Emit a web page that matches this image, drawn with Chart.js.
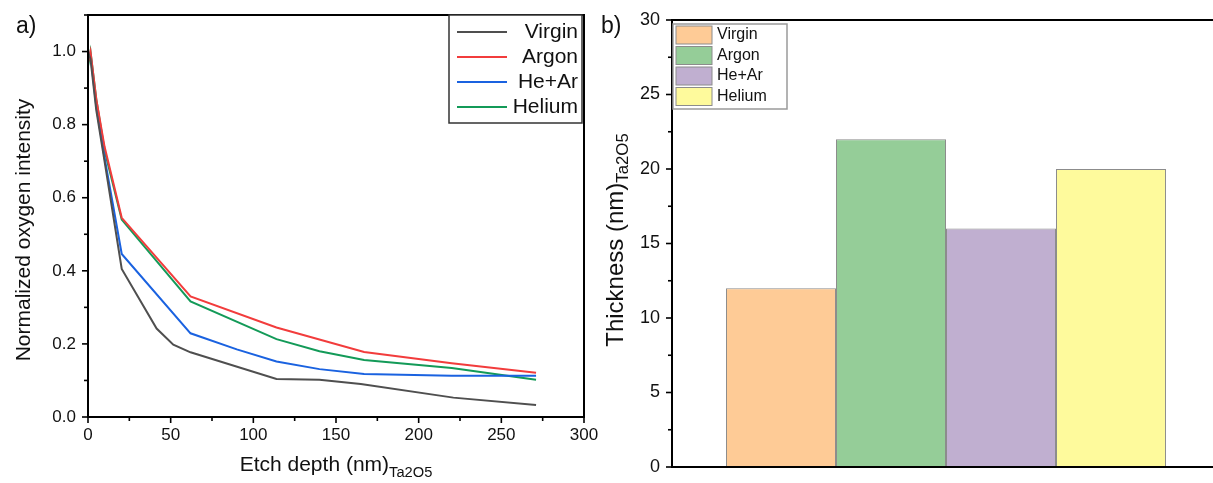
<!DOCTYPE html>
<html>
<head>
<meta charset="utf-8">
<script src="https://cdn.jsdelivr.net/npm/chart.js@4/dist/chart.umd.min.js"></script>
<style>
body{margin:0;width:1213px;height:483px;overflow:hidden;background:#fff;position:relative;font-family:"Liberation Sans",Arial,sans-serif;color:#111}
.box{position:absolute;top:0;height:483px}
.lbl{position:absolute;white-space:nowrap}
.rot{transform:translate(-50%,-50%) rotate(-90deg)}
.ctr{transform:translate(-50%,-50%)}
sub{font-size:0.7em;vertical-align:-0.35em}
</style>
</head>
<body>
<div class="box" style="left:0;width:600px"><canvas id="chartA"></canvas></div>
<div class="box" style="left:600px;width:640px"><canvas id="chartB"></canvas></div>

<div class="lbl" style="left:16px;top:12px;font-size:23px">a)</div>
<div class="lbl" style="left:601px;top:12px;font-size:23px">b)</div>
<div class="lbl rot" style="left:23px;top:230px;font-size:21px">Normalized oxygen intensity</div>
<div class="lbl ctr" style="left:336px;top:466px;font-size:21px">Etch depth (nm)<sub>Ta2O5</sub></div>
<div class="lbl rot" style="left:617px;top:240px;font-size:24px">Thickness (nm)<sub>Ta2O5</sub></div>

<script>
// panel a: etch depth (nm) vs normalized O intensity
var depthVirgin = [0, 1.5, 5, 10, 20.4, 41.5, 51.6, 62, 114, 140, 165, 221, 271];
var oxyVirgin   = [1.0, 0.98, 0.84, 0.70, 0.405, 0.242, 0.198, 0.177, 0.104, 0.102, 0.09, 0.053, 0.033];
var depthArgon  = [0, 1.5, 5, 10, 20.4, 62, 114, 167, 220, 271];
var oxyArgon    = [0.97, 1.0, 0.87, 0.74, 0.545, 0.33, 0.245, 0.178, 0.147, 0.121];
var depthHeAr   = [0, 1.5, 5, 10, 20.4, 62, 90, 114, 140, 167, 220, 271];
var oxyHeAr     = [1.0, 0.99, 0.85, 0.71, 0.446, 0.229, 0.185, 0.152, 0.131, 0.118, 0.113, 0.113];
var depthHelium = [0, 1.5, 5, 10, 20.4, 62, 114, 140, 167, 220, 271];
var oxyHelium   = [0.96, 1.0, 0.87, 0.73, 0.54, 0.316, 0.213, 0.18, 0.156, 0.134, 0.102];

// panel b: thickness per treatment
var treatments = ['Virgin', 'Argon', 'He+Ar', 'Helium'];
var thickness  = [12, 22, 16, 20];

var lineColors = ['#4f4f4f', '#f23c3c', '#1a62e0', '#139a58'];
var barColors  = ['#fecb96', '#95cd98', '#c0afd0', '#fefa9c'];

function pts(xs, ys){
	var out = [];
	for (var i in xs){ out.push({x: xs[i], y: ys[i]}); }
	return out;
}

// drop the label overhang so the plot box sits where the padding says
function noOverhang(s){
	s.paddingTop = 0; s.paddingBottom = 0; s.paddingLeft = 0; s.paddingRight = 0;
}

// box frame + outward ticks (long for labelled, short for minor)
var frame = {
	id: 'frame',
	afterDraw: function(chart){
		var ctx = chart.ctx, a = chart.chartArea;
		ctx.save();
		ctx.strokeStyle = '#000';
		ctx.lineWidth = 2;
		ctx.strokeRect(a.left, a.top, a.right - a.left, a.bottom - a.top);
		ctx.lineWidth = 1.6;
		['x', 'y'].forEach(function(id){
			var s = chart.scales[id];
			if (!s.options.ticks.display) return;
			s.ticks.forEach(function(t){
				var len = t.label !== '' ? 6 : 4;
				var p = s.getPixelForValue(t.value);
				ctx.beginPath();
				if (id == 'x'){ ctx.moveTo(p, a.bottom); ctx.lineTo(p, a.bottom + len); }
				else { ctx.moveTo(a.left, p); ctx.lineTo(a.left - len, p); }
				ctx.stroke();
			});
		});
		ctx.restore();
	}
};

// legend boxes drawn inside the plot like the original
var boxLegend = {
	id: 'boxLegend',
	afterDraw: function(chart, args, o){
		var ctx = chart.ctx;
		ctx.save();
		ctx.fillStyle = '#fff';
		ctx.fillRect(o.x, o.y, o.w, o.h);
		ctx.strokeStyle = o.border;
		ctx.lineWidth = 1.5;
		ctx.strokeRect(o.x, o.y, o.w, o.h);
		ctx.font = o.font;
		ctx.textBaseline = 'middle';
		chart.data.datasets.forEach(function(ds, i){
			var cy = o.y + o.first + i * o.step;
			if (o.kind == 'line'){
				ctx.strokeStyle = ds.borderColor;
				ctx.lineWidth = 2;
				ctx.beginPath();
				ctx.moveTo(o.x + 8, cy); ctx.lineTo(o.x + 58, cy);
				ctx.stroke();
				ctx.fillStyle = '#111';
				ctx.textAlign = 'right';
				ctx.fillText(ds.label, o.x + o.w - 4, cy);
			} else {
				ctx.fillStyle = ds.backgroundColor;
				ctx.fillRect(o.x + 3, cy - 9, 36, 18);
				ctx.strokeStyle = '#8c8c8c';
				ctx.lineWidth = 1;
				ctx.strokeRect(o.x + 3, cy - 9, 36, 18);
				ctx.fillStyle = '#111';
				ctx.textAlign = 'left';
				ctx.fillText(ds.label, o.x + 44, cy);
			}
		});
		ctx.restore();
	}
};

Chart.defaults.font.family = '"Liberation Sans", Arial, sans-serif';
Chart.defaults.color = '#111';

var chartdataA = {
	datasets: [
	{ label: 'Virgin', data: pts(depthVirgin, oxyVirgin), borderColor: lineColors[0] },
	{ label: 'Argon',  data: pts(depthArgon, oxyArgon),   borderColor: lineColors[1] },
	{ label: 'He+Ar',  data: pts(depthHeAr, oxyHeAr),     borderColor: lineColors[2] },
	{ label: 'Helium', data: pts(depthHelium, oxyHelium), borderColor: lineColors[3] }
	]
};
chartdataA.datasets.forEach(function(d){
	d.borderWidth = 2; d.pointRadius = 0; d.fill = false; d.tension = 0;
	d.backgroundColor = d.borderColor;
});

var chartA = new Chart(document.getElementById('chartA'), {
	type: 'line',
	data: chartdataA,
	plugins: [frame, boxLegend],
	options: {
		responsive: true, maintainAspectRatio: false, animation: false,
		layout: { padding: { top: 15, right: 16, left: 0, bottom: 0 } },
		plugins: {
			legend: { display: false }, tooltip: { enabled: false },
			boxLegend: { kind: 'line', x: 449, y: 15, w: 133, h: 108, first: 17, step: 25,
				border: '#333', font: '21px "Liberation Sans", Arial, sans-serif' }
		},
		scales: {
			x: {
				type: 'linear', min: 0, max: 300,
				ticks: { stepSize: 25, padding: 8, font: { size: 17 }, maxRotation: 0, autoSkip: false,
					callback: function(v){ return v % 50 == 0 ? v : ''; } },
				grid: { display: false, drawTicks: false },
				border: { display: false },
				afterFit: function(s){ s.height = 66; noOverhang(s); }
			},
			y: {
				min: 0, max: 1.1,
				ticks: { stepSize: 0.1, includeBounds: false, padding: 12, font: { size: 17 }, autoSkip: false,
					callback: function(v){ var r = Math.round(v * 10); return r % 2 == 0 ? (r / 10).toFixed(1) : ''; } },
				grid: { display: false, drawTicks: false },
				border: { display: false },
				afterFit: function(s){ s.width = 88; noOverhang(s); }
			}
		}
	}
});

var barSets = [];
for (var i in treatments){
	var vals = [null];
	vals[0] = thickness[i];
	barSets.push({
		label: treatments[i], data: vals,
		backgroundColor: barColors[i], borderColor: '#8c8c8c', borderWidth: 1,
		categoryPercentage: 0.803, barPercentage: 1.0
	});
}

var chartB = new Chart(document.getElementById('chartB'), {
	type: 'bar',
	data: { labels: [''], datasets: barSets },
	plugins: [frame, boxLegend],
	options: {
		responsive: true, maintainAspectRatio: false, animation: false,
		layout: { padding: { top: 20, right: 20, left: 0, bottom: 0 } },
		plugins: {
			legend: { display: false }, tooltip: { enabled: false },
			boxLegend: { kind: 'bar', x: 73, y: 24, w: 114, h: 85, first: 11, step: 20.5,
				border: '#9a9a9a', font: '16px "Liberation Sans", Arial, sans-serif' }
		},
		scales: {
			x: {
				ticks: { display: false },
				grid: { display: false, drawTicks: false },
				border: { display: false },
				afterFit: function(s){ s.height = 16; noOverhang(s); }
			},
			y: {
				min: 0, max: 30,
				ticks: { stepSize: 2.5, includeBounds: false, padding: 12, font: { size: 18 }, autoSkip: false,
					callback: function(v){ return v % 5 == 0 ? v : ''; } },
				grid: { display: false, drawTicks: false },
				border: { display: false },
				afterFit: function(s){ s.width = 72; noOverhang(s); }
			}
		}
	}
});
</script>
</body>
</html>
